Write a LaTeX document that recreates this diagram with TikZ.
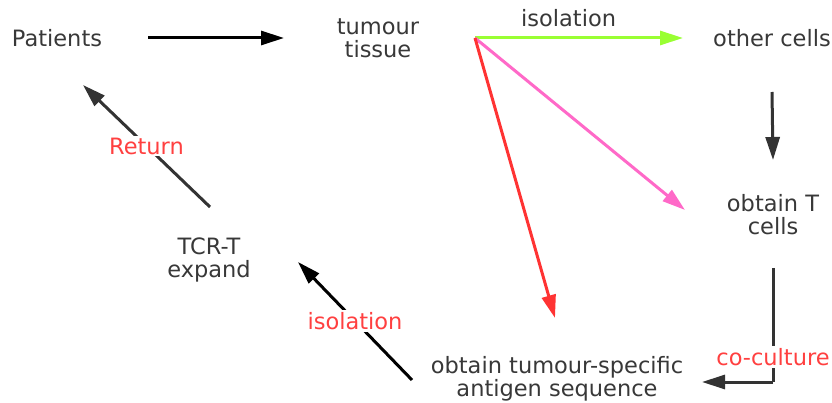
\documentclass[tikz,border=0pt]{standalone}
\usepackage{fontspec}
\setmainfont{DejaVu Sans}
\usepackage{tikz}
\usetikzlibrary{arrows.meta, positioning, calc}

\definecolor{txtgray}{HTML}{383838}
\definecolor{arrgray}{HTML}{333333}
\definecolor{isogreen}{HTML}{99FF33}
\definecolor{isopink}{HTML}{FF69C8}
\definecolor{isored}{HTML}{FF3333}
\definecolor{lblred}{HTML}{FF4040}

\begin{document}
\begin{tikzpicture}[x=1pt, y=-1pt,
    stage/.style={text=txtgray, inner sep=0pt, align=center, font=\fontsize{22.5}{23}\selectfont},
    lbl/.style={text=lblred, fill=white, inner sep=2pt, font=\fontsize{22.5}{23}\selectfont},
    arr/.style={line width=3pt, -{Triangle[length=23pt, width=14pt]}}]
        \useasboundingbox (0,0) rectangle (832,403);

        % Stages of the cycle
        \node[stage] at (57,38) (pat) {Patients};
        \node[stage] at (378,38) (tum) {tumour\\tissue};
        \node[stage] at (772,38) (oth) {other cells};
        \node[stage] at (773,215) (tcell) {obtain T\\cells};
        \node[stage] at (209,260) (tcr) {TCR-T\\expand};
        \node[stage] at (557,379) (anti) {obtain tumour-specific\\antigen sequence};

        % Split point right of the tissue
        \coordinate (split) at ([xshift=97]tum.center);

        % Top row
        \draw[arr, black] ([xshift=91]pat.center) -- ([xshift=-94]tum.center);
        \draw[arr, isogreen] (split) -- node[pos=0.45, above=6pt, text=txtgray, font=\fontsize{22.5}{23}\selectfont] (isotop) {isolation} ([xshift=-89]oth.center);

        % Fan out of the tissue
        \draw[arr, isopink] (split) -- ([xshift=-88, yshift=5]tcell.center);
        \draw[arr, isored] (split) -- ([xshift=-2, yshift=61]anti.center);

        % Right column
        \draw[arr, arrgray] ([yshift=-54]oth.center) -- ([yshift=55]tcell.center);
        \draw[line width=3pt, arrgray] ([yshift=-53]tcell.center) -- ([yshift=-3]tcell.center |- anti.center) node[pos=0.78, lbl] (cocul) {co-culture};
        \draw[arr, arrgray] ([yshift=-3]tcell.center |- anti.center) -- ([xshift=145, yshift=-3]anti.center);

        % Back to the patients
        \draw[arr, black] ([xshift=-145, yshift=-1]anti.center) -- node[lbl] (isobot) {isolation} ([xshift=89, yshift=-2]tcr.center);
        \draw[arr, arrgray] ([xshift=1, yshift=53]tcr.center) -- node[lbl] (ret) {Return} ([xshift=26, yshift=-47]pat.center);

    \end{tikzpicture}
\end{document}
